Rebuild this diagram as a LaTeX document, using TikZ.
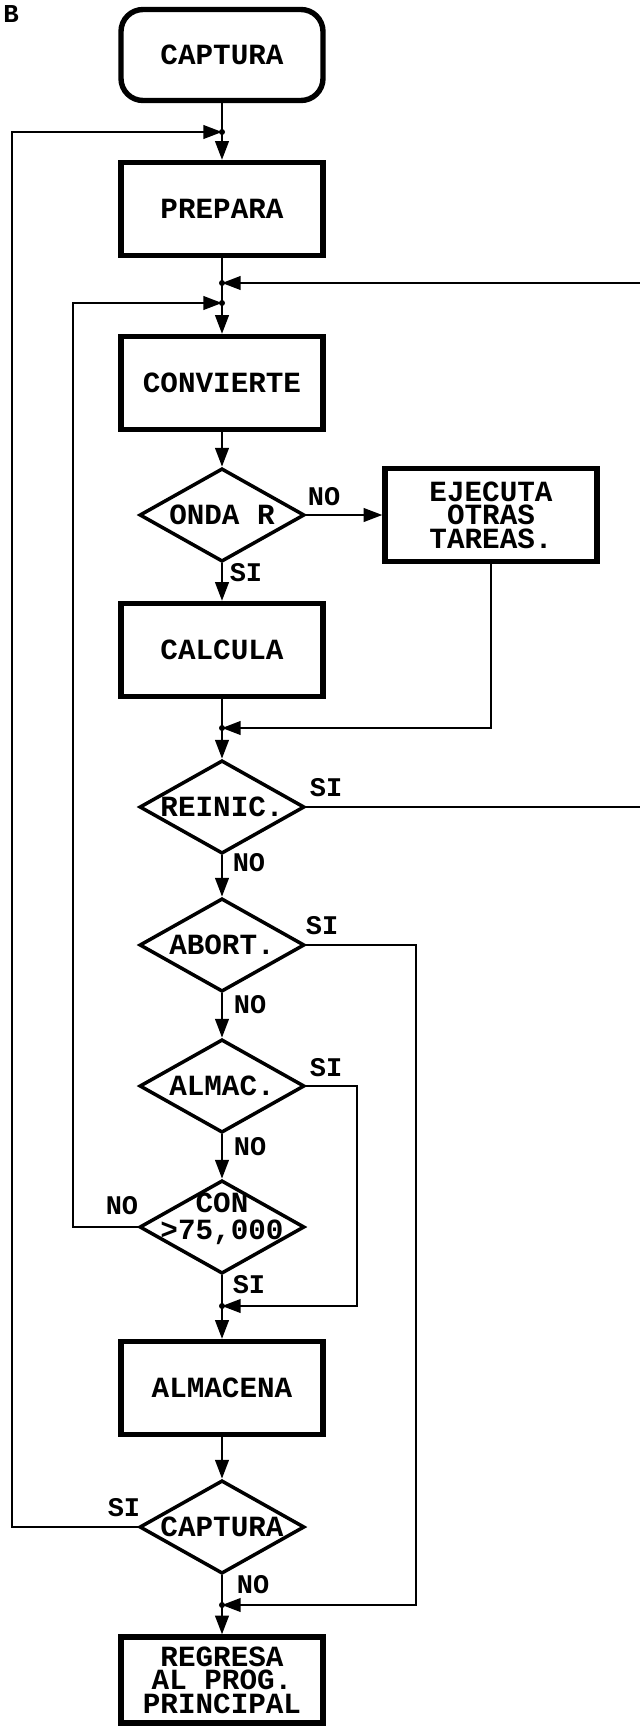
\documentclass[tikz,border=0pt]{standalone}
\usepackage{fontspec}
\setmonofont{Liberation Mono}
\usetikzlibrary{shapes.geometric, arrows.meta}

\begin{document}
\begin{tikzpicture}[x=0.3mm, y=-0.3mm,
    >={Triangle[length=5.6mm, width=4.1mm]},
    font=\ttfamily\bfseries\fontsize{25}{20}\selectfont,
    term/.style={draw, rounded corners=6.6mm, line width=4.6pt, minimum width=60.6mm, minimum height=27.3mm},
    process/.style={draw, line width=4.6pt, minimum width=60.6mm, minimum height=27.9mm, inner sep=0pt, align=center},
    decision/.style={draw, diamond, aspect=1.8, line width=3pt, minimum width=49.5mm, minimum height=28mm, inner sep=0pt},
    answer/.style={font=\ttfamily\bfseries\fontsize{23}{17}\selectfont, inner sep=0pt},
    flow/.style={line width=1.7pt}]

    % Page size
    \useasboundingbox (0,0) rectangle (639,1726);

    % Main column
    \def\colX{222}

    % Figure letter
    \node[font=\ttfamily\bfseries\fontsize{22}{22}\selectfont] (fig) at (11,14) {B};

    % Draw the steps
    \node[term] (cap) at (\colX,55) {CAPTURA};
    \node[process] (prep) at (\colX,209) {PREPARA};
    \node[process] (conv) at (\colX,383) {CONVIERTE};
    \node[decision] (onda) at (\colX,515) {ONDA R};
    \node[process, minimum width=63.6mm] (ejec) at (491,515) {EJECUTA\\OTRAS\\TAREAS.};
    \node[process] (calc) at (\colX,650) {CALCULA};
    \node[decision] (reinic) at (\colX,807) {REINIC.};
    \node[decision] (abort) at (\colX,945) {ABORT.};
    \node[decision] (almac) at (\colX,1086) {ALMAC.};
    \node[decision] (con) at (\colX,1227) {\smash{\begin{tabular}{@{}c@{}}CON\\>75,000\end{tabular}}};
    \node[process] (almacena) at (\colX,1388) {ALMACENA};
    \node[decision] (cap2) at (\colX,1527) {CAPTURA};
    \node[process, minimum height=25.8mm] (regresa) at (\colX,1680) {REGRESA\\AL PROG.\\PRINCIPAL};

    % Answers
    \node[answer] (ondaNo) at (324,497) {NO};
    \node[answer] (ondaSi) at (246,573) {SI};
    \node[answer] (reinicSi) at (326,788) {SI};
    \node[answer] (reinicNo) at (249,863) {NO};
    \node[answer] (abortSi) at (322,926) {SI};
    \node[answer] (abortNo) at (250,1005) {NO};
    \node[answer] (almacSi) at (326,1068) {SI};
    \node[answer] (almacNo) at (250,1147) {NO};
    \node[answer] (conNo) at (122,1206) {NO};
    \node[answer] (conSi) at (249,1285) {SI};
    \node[answer] (capSi) at (124,1508) {SI};
    \node[answer] (capNo) at (253,1585) {NO};

    % Junctions on the main line
    \coordinate (j1) at (\colX,132);
    \coordinate (j2) at (\colX,283);
    \coordinate (j3) at (\colX,303);
    \coordinate (j4) at (\colX,728);
    \coordinate (j5) at (\colX,1306);
    \coordinate (j6) at (\colX,1605);

    % Corners of the loops
    \coordinate (leftOuter) at (12,132);
    \coordinate (leftInner) at (73,303);
    \coordinate (rightOuter) at (660,283);
    \coordinate (abortCorner) at (416,1605);
    \coordinate (almacCorner) at (357,1306);

    % Draw main line
    \foreach \a/\b in {cap/prep, prep/conv, conv/onda, onda/calc, calc/reinic, reinic/abort,
        abort/almac, almac/con, con/almacena, almacena/cap2, cap2/regresa}
        \draw[flow,->] (\a) -- (\b);

    % Draw loops
    \draw[flow,->] (onda) -- (ejec);
    \draw[flow,->] (ejec.south) |- (j4);
    \draw[flow,->] (reinic.east) -| (rightOuter) -- (j2);
    \draw[flow,->] (abort.east) -| (abortCorner) -- (j6);
    \draw[flow,->] (almac.east) -| (almacCorner) -- (j5);
    \draw[flow,->] (con.west) -| (leftInner) -- (j3);
    \draw[flow,->] (cap2.west) -| (leftOuter) -- (j1);

    % Dots at junctions
    \foreach \j in {j1,j2,j3,j4,j5,j6}
        \fill (\j) circle (0.9mm);

\end{tikzpicture}
\end{document}
